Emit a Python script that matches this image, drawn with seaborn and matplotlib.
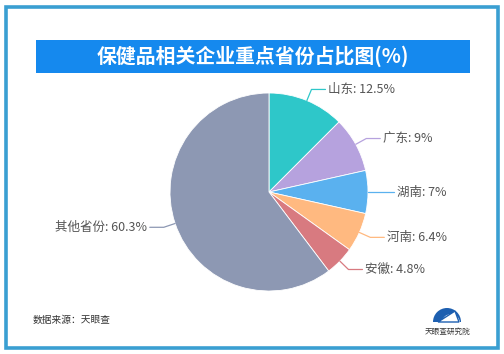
import numpy as np
import matplotlib.pyplot as plt
import matplotlib.patches as mpatches
import seaborn as sns

sns.set_theme(style="white")
plt.rcParams["font.family"] = ["Noto Sans CJK SC", "DejaVu Sans"]

# data
provinces = ["山东", "广东", "湖南", "河南", "安徽", "其他省份"]
shares = [12.5, 9, 7, 6.4, 4.8, 60.3]
share_labels = ["12.5%", "9%", "7%", "6.4%", "4.8%", "60.3%"]
palette = sns.color_palette(["#2ec7c9", "#b6a2de", "#5ab1ef", "#ffb980", "#d87a80", "#8d98b3"])

title = "保健品相关企业重点省份占比图(%)"
source = "数据来源：天眼查"
logo_text = "天眼查研究院"

W, H = 504, 354
fig = plt.figure(figsize=(W / 100, H / 100), dpi=100)

# background canvas in pixel coordinates (y grows downward)
bg = fig.add_axes([0, 0, 1, 1])
bg.set_xlim(0, W)
bg.set_ylim(H, 0)
bg.axis("off")
bg.add_patch(mpatches.Rectangle((6, 7), 492, 341, fill=False, ec="#3a9fd2", lw=2.6))
bg.add_patch(mpatches.Rectangle((36, 40), 434, 33, fc="#1589ee", ec="none"))
bg.text(253, 56.5, title, color="white", fontsize=14.3, fontweight="bold",
        ha="center", va="center")
bg.text(33, 320, source, color="#333333", fontsize=7, ha="left", va="center")
# small logo
bg.add_patch(mpatches.Wedge((447, 322), 14, 180, 360, fc="#1d5fb0", ec="none"))
bg.add_patch(mpatches.Wedge((451, 323), 9, 180, 360, fc="white", ec="none"))
bg.add_patch(mpatches.Polygon([[438, 322], [455, 311], [459, 322]], closed=True,
                              fc="white", ec="#1d5fb0", lw=1.0))
bg.text(448, 332, logo_text, color="#333333", fontsize=5.5, ha="center", va="center")

# pie
cx, cy, r = 269, 192, 99
ax = fig.add_axes([(cx - r) / W, (H - cy - r) / H, 2 * r / W, 2 * r / H])
wedges, _ = ax.pie(shares, colors=palette, startangle=90, counterclock=False,
                   radius=1, wedgeprops=dict(linewidth=0.6, edgecolor="white"))
ax.set_xlim(-1, 1)
ax.set_ylim(-1, 1)
ax.set_aspect("equal")
ax.axis("off")

L1 = 12 / r
L2 = 14 / r
for w, name, lab in zip(wedges, provinces, share_labels):
    ang = np.deg2rad((w.theta1 + w.theta2) / 2)
    c, s = np.cos(ang), np.sin(ang)
    p0 = (c, s)
    p1 = ((1 + L1) * c, (1 + L1) * s)
    side = 1 if c >= 0 else -1
    p2 = (p1[0] + side * L2, p1[1])
    ax.plot([p0[0], p1[0], p2[0]], [p0[1], p1[1], p2[1]], color=w.get_facecolor(),
            lw=0.9, clip_on=False)
    ax.text(p2[0] + side * 3 / r, p2[1], f"{name}: {lab}", color="#555555",
            fontsize=9, ha="left" if side > 0 else "right", va="center", clip_on=False)

fig.savefig("out.png", dpi=100, facecolor="white")
